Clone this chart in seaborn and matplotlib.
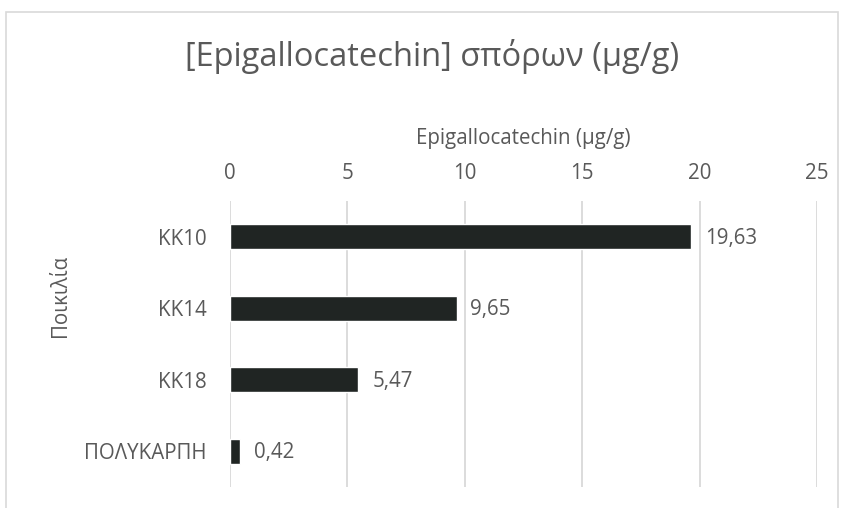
import matplotlib
matplotlib.use("Agg")
import matplotlib.pyplot as plt
import seaborn as sns
import pandas as pd
from matplotlib.patches import Rectangle

categories = ["KK10", "KK14", "KK18", "ΠΟΛΥΚΑΡΠΗ"]
values = [19.63, 9.65, 5.47, 0.42]
xticks = [0, 5, 10, 15, 20, 25]

sns.set_theme(style="white")
plt.rcParams['font.family'] = ['Open Sans', 'DejaVu Sans']
text_color = "#595959"
fs = 14.8

df = pd.DataFrame({"cat": categories, "val": values})

fig = plt.figure(figsize=(8.43, 5.08), dpi=100)
ax = fig.add_axes([230/843, 1-487/508, (817-230)/843, (487-201)/508])

sns.barplot(data=df, x="val", y="cat", color="#202523", width=0.35,
            saturation=1, ax=ax, orient="h")

ax.set_xlim(0, 25)
ax.set_ylim(3.5, -0.5)
ax.set_xticks(xticks)
ax.set_xticklabels([str(t) for t in xticks])
ax.xaxis.tick_top()
ax.xaxis.set_label_position("top")
ax.grid(axis="x", color="#d9d9d9", linewidth=1.3)
ax.set_axisbelow(True)
for s in ax.spines.values():
    s.set_visible(False)
ax.tick_params(axis="both", length=0, colors=text_color, labelsize=fs)
ax.tick_params(axis="x", pad=12)
ax.tick_params(axis="y", pad=17)
ax.set_xlabel("Epigallocatechin (μg/g)", color=text_color, fontsize=fs, labelpad=14)
ax.set_ylabel("")
fig.text(61/843, 1-296/508, "Ποικιλία", rotation=90, color=text_color,
         fontsize=fs, ha="center", va="center")

for i, v in enumerate(values):
    ax.annotate(f"{v:.2f}".replace(".", ","), (v, i), xytext=(10, -1),
                textcoords="offset points", va="center", ha="left",
                color=text_color, fontsize=fs)

fig.suptitle("[Epigallocatechin] σπόρων (μg/g)", x=432/843, y=1-57/508,
             va="center", color=text_color, fontsize=23.5)

fig.patches.append(Rectangle((6/843, -0.1), (838-6)/843, 1.1 - 12/508,
                             transform=fig.transFigure, fill=False,
                             edgecolor="#d9d9d9", linewidth=1.2))

fig.savefig("out.png", dpi=100)
